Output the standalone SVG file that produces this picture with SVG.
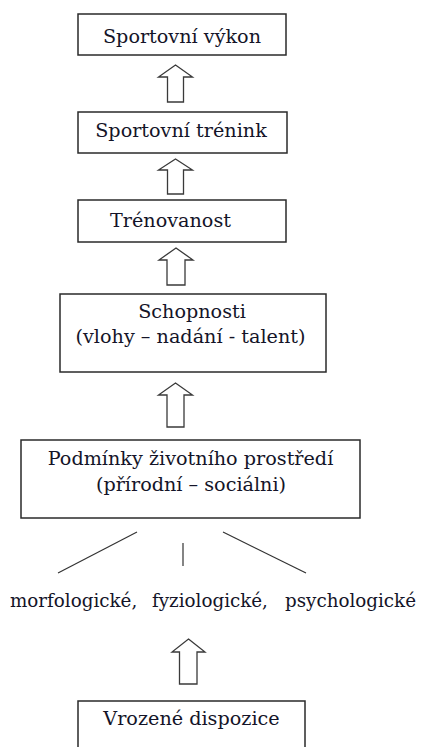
<svg xmlns="http://www.w3.org/2000/svg" width="424" height="747" viewBox="0 0 424 747">
<style>
.box{fill:#fff;stroke:#2a2a2a;stroke-width:1.5}
.t{font-family:'DejaVu Serif',serif;font-size:19.2px;fill:#141428;text-anchor:middle}
.s{font-size:18.3px;text-anchor:start}
.arr{fill:#fff;stroke:#3a3a3a;stroke-width:1.3;stroke-linejoin:miter}
.ln{stroke:#333;stroke-width:1.2;fill:none}
</style>
<rect width="424" height="747" fill="#fff"/>
<g id="connectors">
<path class="arr" d="M175.5,65 L192.5,77 L183.5,77 L183.5,102 L167.5,102 L167.5,77 L158.5,77 Z"/>
<path class="arr" d="M175.5,159 L192.5,170 L183.5,170 L183.5,194 L167.5,194 L167.5,170 L158.5,170 Z"/>
<path class="arr" d="M176,248 L193,260 L185,260 L185,285 L167,285 L167,260 L159,260 Z"/>
<path class="arr" d="M175.5,383 L192.5,395 L184,395 L184,427 L167,427 L167,395 L158.5,395 Z"/>
<path class="arr" d="M188.5,639 L205,652 L197,652 L197,684 L179.5,684 L179.5,652 L172,652 Z"/>
<line class="ln" x1="137" y1="532" x2="58" y2="573"/>
<line class="ln" x1="183" y1="543" x2="183" y2="566"/>
<line class="ln" x1="223" y1="532" x2="306" y2="573"/>
</g>
<g id="n1"><rect class="box" x="78" y="14" width="208" height="41"/><text class="t" x="182" y="43">Sportovní výkon</text></g>
<g id="n2"><rect class="box" x="78" y="112" width="209" height="41"/><text class="t" x="181" y="137">Sportovní trénink</text></g>
<g id="n3"><rect class="box" x="78" y="200" width="208" height="42"/><text class="t" x="170.5" y="227">Trénovanost</text></g>
<g id="n4"><rect class="box" x="60" y="294" width="266" height="78"/><text class="t" x="192" y="318">Schopnosti</text><text class="t" x="190.5" y="343">(vlohy – nadání - talent)</text></g>
<g id="n5"><rect class="box" x="21" y="440" width="339" height="78"/><text class="t" x="190.5" y="465">Podmínky životního prostředí</text><text class="t" x="191" y="491">(přírodní – sociálni)</text></g>
<g id="n6"><text class="t s" y="607"><tspan x="10">morfologické,</tspan><tspan x="152">fyziologické,</tspan><tspan x="285">psychologické</tspan></text></g>
<g id="n7"><rect class="box" x="78" y="701" width="227" height="60"/><text class="t" x="191.5" y="725">Vrozené dispozice</text></g>
</svg>
